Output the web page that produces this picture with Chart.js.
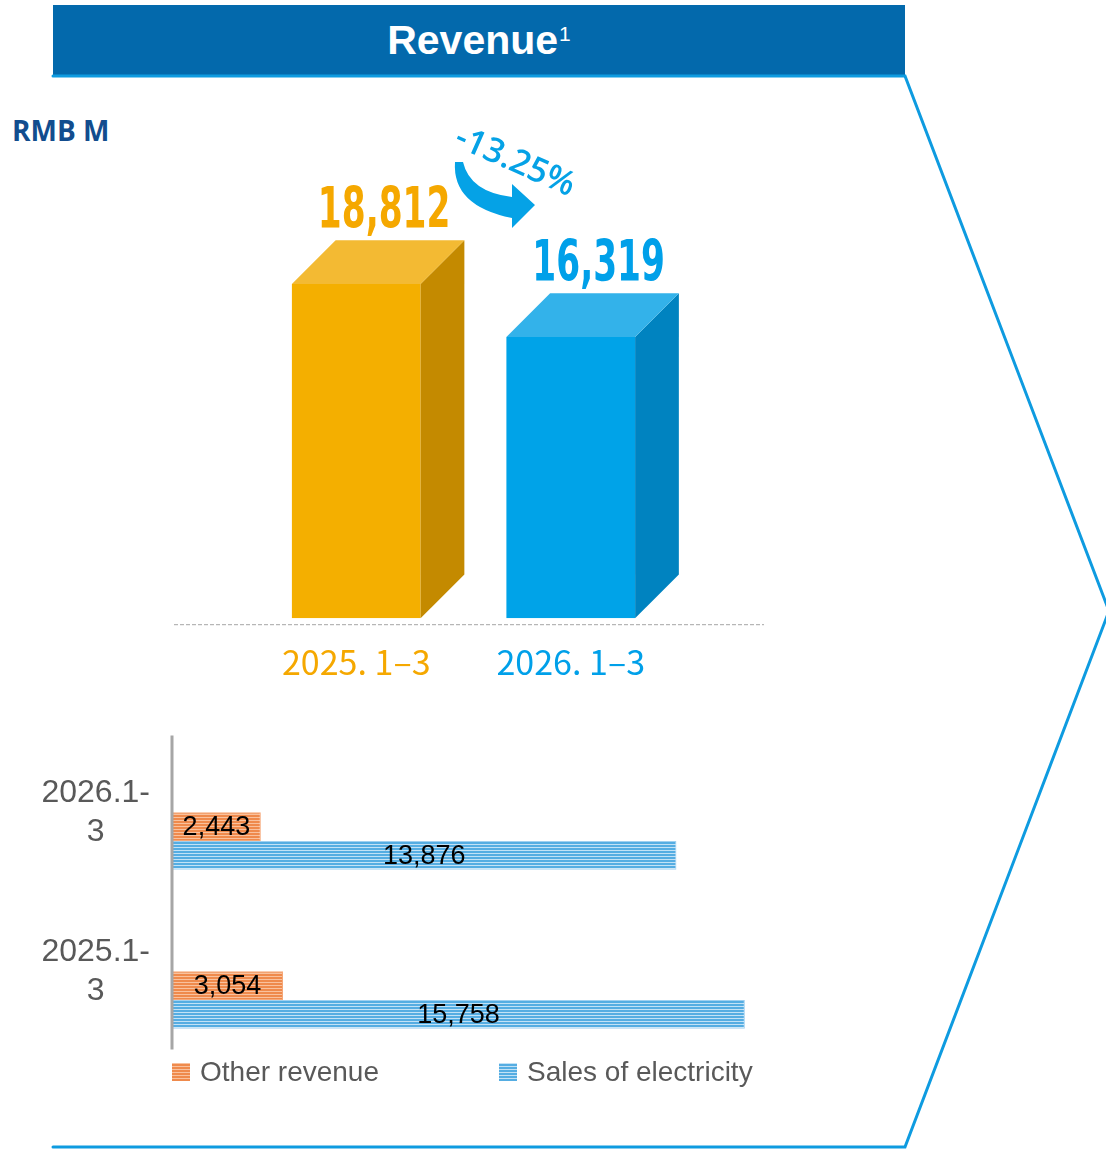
<!DOCTYPE html>
<html>
<head>
<meta charset="utf-8">
<script src="https://cdn.jsdelivr.net/npm/chart.js@4.4.1/dist/chart.umd.min.js"></script>
<style>
  html, body { margin: 0; padding: 0; background: #fff; }
  body { width: 1106px; height: 1149px; position: relative; overflow: hidden; font-family: Arial, "Liberation Sans", sans-serif; }
  #title { position: absolute; left: 53px; top: 5px; width: 852px; height: 70px; background: #0369AC;
           color: #fff; font: bold 41px Arial, "Liberation Sans", sans-serif; text-align: center; line-height: 70px; }
  #title sup { font-size: 21px; font-weight: normal; vertical-align: baseline; position: relative; top: -13px; margin-left: 1px; }
  #frame { position: absolute; left: 0; top: 0; }
  #unit { position: absolute; left: 12px; top: 111px; font: bold 28px "Open Sans", sans-serif; color: #124D8E; }
  #topChart { position: absolute; left: 0; top: 0; }
  #bottomChart { position: absolute; left: 0; top: 700px; }
  .leg { position: absolute; top: 1055px; height: 34px; display: flex; align-items: center;
         font: 28px Arial, "Liberation Sans", sans-serif; color: #595959; white-space: nowrap; }
  .sw { width: 18px; height: 18px; margin-right: 10px; }
</style>
</head>
<body>
<div id="title">Revenue<sup>1</sup></div>
<svg id="frame" width="1106" height="1149">
  <polyline points="53,76 905,76 1109,611 905,1147 53,1147" fill="none" stroke="#0E9BE0" stroke-width="3" stroke-linecap="round" stroke-linejoin="miter"/>
</svg>
<div id="unit">RMB M</div>
<canvas id="topChart" width="1106" height="721"></canvas>
<canvas id="bottomChart" width="1106" height="442"></canvas>
<div id="legendBox"></div>

<script>
// top chart: total revenue per period
const periods = ['2025. 1–3', '2026. 1–3'];
const totalRevenue = [18812, 16319];
const frontColors = ['#F4AF00', '#00A3E8'];
const sideColors = ['#C48A00', '#0083C0'];
const topColors = ['#F3BA33', '#33B2EA'];
const labelColors = ['#F5A800', '#00A0E9'];

// bottom chart: revenue breakdown
const breakdownPeriods = ['2025.1-3', '2026.1-3'];
const otherRevenue = [3054, 2443];
const electricitySales = [15758, 13876];
const seriesNames = ['Other revenue', 'Sales of electricity'];

const fmt = v => v.toLocaleString('en-US');

// striped fill like the original hatch
function stripes(light, dark) {
    const c = document.createElement('canvas');
    c.width = 4; c.height = 3;
    const g = c.getContext('2d');
    g.fillStyle = dark; g.fillRect(0, 0, 4, 3);
    g.fillStyle = light; g.fillRect(0, 0, 4, 1);
    return g.createPattern(c, 'repeat');
}
const orangeFill = stripes('#F9C19D', '#EF8A4C');
const blueFill = stripes('#C2E2F6', '#55ADE2');

// 3D faces, value labels and the change arrow
const bars3d = {
    id: 'bars3d',
    afterDatasetsDraw(chart) {
        const ctx = chart.ctx;
        const values = chart.data.datasets[0].data;
        const meta = chart.getDatasetMeta(0);
        meta.data.forEach((bar, i) => {
            const half = bar.width / 2;
            const l = bar.x - half, r = bar.x + half;
            const d = bar.width * 0.34;
            ctx.save();
            ctx.fillStyle = sideColors[i];
            ctx.beginPath();
            ctx.moveTo(r, bar.y);
            ctx.lineTo(r + d, bar.y - d);
            ctx.lineTo(r + d, bar.base - d);
            ctx.lineTo(r, bar.base);
            ctx.closePath();
            ctx.fill();
            ctx.fillStyle = topColors[i];
            ctx.beginPath();
            ctx.moveTo(l, bar.y);
            ctx.lineTo(r, bar.y);
            ctx.lineTo(r + d, bar.y - d);
            ctx.lineTo(l + d, bar.y - d);
            ctx.closePath();
            ctx.fill();

            // condensed heavy value label
            ctx.fillStyle = labelColors[i];
            ctx.font = 'bold 57px "DejaVu Sans Condensed", "DejaVu Sans", sans-serif';
            ctx.textAlign = 'center';
            ctx.textBaseline = 'alphabetic';
            ctx.translate(bar.x + d / 2 + 6, bar.y - d - 12);
            ctx.scale(0.67, 1);
            ctx.fillText(fmt(values[i]), 0, 0);
            ctx.restore();
        });

        // dashed baseline
        const base = meta.data[0].base;
        ctx.save();
        ctx.strokeStyle = '#A6A6A6';
        ctx.lineWidth = 1;
        ctx.setLineDash([4, 2]);
        ctx.beginPath();
        ctx.moveTo(174, base + 6.5);
        ctx.lineTo(764, base + 6.5);
        ctx.stroke();
        ctx.restore();

        // curved arrow + change %
        ctx.save();
        ctx.fillStyle = '#05A2E6';
        ctx.beginPath();
        ctx.moveTo(455, 162);
        ctx.quadraticCurveTo(452, 206, 512, 218);
        ctx.lineTo(512, 228);
        ctx.lineTo(535, 205);
        ctx.lineTo(512, 184);
        ctx.lineTo(512, 197);
        ctx.quadraticCurveTo(470, 192, 463, 162);
        ctx.closePath();
        ctx.fill();
        const change = (values[1] - values[0]) / values[0] * 100;
        ctx.translate(515, 162);
        ctx.rotate(24 * Math.PI / 180);
        ctx.font = '600 34px "Open Sans", sans-serif';
        ctx.textAlign = 'center';
        ctx.textBaseline = 'middle';
        ctx.fillText(change.toFixed(2) + '%', 0, 0);
        ctx.restore();
    }
};

const yMin = 3100;

new Chart(document.getElementById('topChart'), {
    type: 'bar',
    data: {
        labels: periods,
        datasets: [{
            data: totalRevenue,
            backgroundColor: frontColors,
            borderWidth: 0,
            base: yMin,
            barPercentage: 0.6,
            categoryPercentage: 1
        }]
    },
    options: {
        responsive: false,
        animation: false,
        devicePixelRatio: 1,
        layout: { padding: { left: 249, right: 428, top: 180, bottom: 16 } },
        plugins: { legend: { display: false }, tooltip: { enabled: false } },
        scales: {
            x: {
                grid: { display: false, drawTicks: false },
                border: { display: false },
                ticks: {
                    padding: 23,
                    color: c => labelColors[c.index],
                    font: { family: '"Noto Sans CJK SC", sans-serif', size: 34 }
                }
            },
            y: { display: false, min: yMin, max: 23700 }
        }
    },
    plugins: [bars3d]
});

// value labels inside the horizontal bars + the axis line
const barLabels = {
    id: 'barLabels',
    afterDatasetsDraw(chart) {
        const ctx = chart.ctx;
        ctx.save();
        ctx.font = '27px Arial, "Liberation Sans", sans-serif';
        ctx.fillStyle = '#000';
        ctx.textAlign = 'center';
        ctx.textBaseline = 'middle';
        chart.data.datasets.forEach((ds, di) => {
            chart.getDatasetMeta(di).data.forEach((bar, i) => {
                ctx.fillText(fmt(ds.data[i]), (bar.x + bar.base) / 2, bar.y + 1);
            });
        });
        const a = chart.chartArea;
        ctx.strokeStyle = '#A6A6A6';
        ctx.lineWidth = 3;
        ctx.beginPath();
        ctx.moveTo(a.left, a.top - 26);
        ctx.lineTo(a.left, a.bottom - 30);
        ctx.stroke();
        ctx.restore();
    }
};

new Chart(document.getElementById('bottomChart'), {
    type: 'bar',
    data: {
        labels: breakdownPeriods,
        datasets: [{
            label: seriesNames[0],
            data: otherRevenue,
            backgroundColor: orangeFill,
            borderColor: '#F6A777',
            borderWidth: 1
        }, {
            label: seriesNames[1],
            data: electricitySales,
            backgroundColor: blueFill,
            borderColor: '#9FD0F0',
            borderWidth: 1
        }]
    },
    options: {
        indexAxis: 'y',
        responsive: false,
        animation: false,
        devicePixelRatio: 1,
        categoryPercentage: 0.362,
        barPercentage: 1,
        layout: { padding: { left: 0, right: 316, top: 61.5, bottom: 62.5 } },
        plugins: { legend: { display: false }, tooltip: { enabled: false } },
        scales: {
            x: { display: false, min: 0, max: 17000 },
            y: {
                reverse: true,
                grid: { display: false, drawTicks: false },
                border: { display: false },
                afterFit: s => { s.width = 172; },
                ticks: {
                    padding: 22,
                    crossAlign: 'center',
                    labelOffset: -28,
                    color: '#595959',
                    font: { family: 'Arial, "Liberation Sans", sans-serif', size: 32, lineHeight: 1.22 },
                    callback: function (v) {
                        const s = this.getLabelForValue(v);
                        const k = s.indexOf('-') + 1;
                        return [s.slice(0, k), s.slice(k)];
                    }
                }
            }
        }
    },
    plugins: [barLabels]
});

// legend
const swatchCss = [
    'repeating-linear-gradient(#F9C19D 0 1px, #EF8A4C 1px 3px)',
    'repeating-linear-gradient(#C2E2F6 0 1px, #55ADE2 1px 3px)'
];
const legendLeft = [172, 499];
seriesNames.forEach((name, i) => {
    const d = document.createElement('div');
    d.className = 'leg';
    d.style.left = legendLeft[i] + 'px';
    const sw = document.createElement('span');
    sw.className = 'sw';
    sw.style.background = swatchCss[i];
    d.appendChild(sw);
    d.appendChild(document.createTextNode(name));
    document.getElementById('legendBox').appendChild(d);
});
</script>
</body>
</html>
